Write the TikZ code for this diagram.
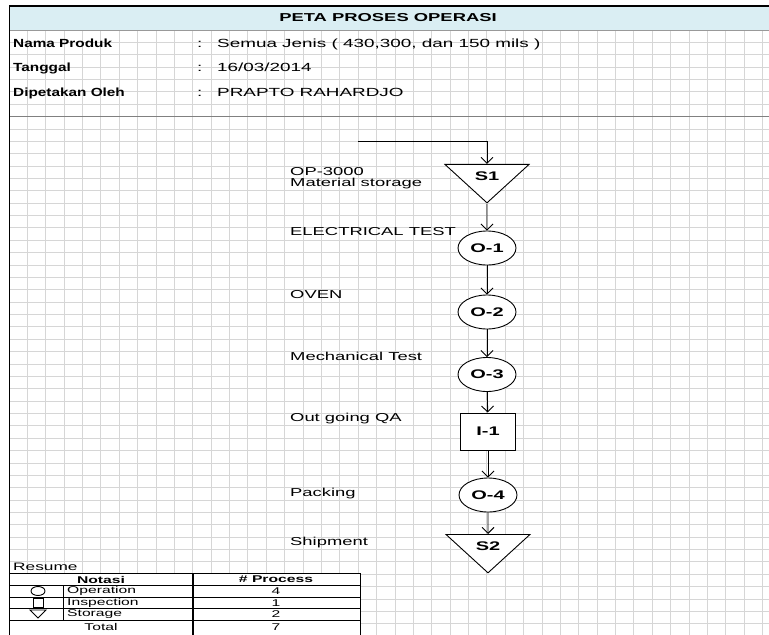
\documentclass[tikz,border=0pt]{standalone}
\usepackage{fontspec}
\setmainfont{Liberation Sans}[FakeStretch=1.6]
\newfontfamily\hdrfont{Liberation Sans}[FakeStretch=1.3]
\usetikzlibrary{positioning,shapes.geometric,arrows.meta}

\definecolor{titleblue}{HTML}{DAEEF3}
\definecolor{gridgray}{HTML}{D6D6D6}

\tikzset{
  gridline/.style={draw=gridgray, line width=0.9pt},
  headlbl/.style={anchor=base west, inner sep=0pt, font=\fontsize{11.8}{13}\hdrfont\bfseries},
  headval/.style={anchor=base west, inner sep=0pt, font=\fontsize{11.8}{13}\selectfont},
  steplbl/.style={anchor=base west, inner sep=0pt, font=\fontsize{11.5}{13}\selectfont},
  opbox/.style={draw, ellipse, fill=white, line width=0.9pt, minimum width=58pt,
    minimum height=34pt, inner sep=0pt, font=\fontsize{12.5}{14}\selectfont\bfseries},
  inspbox/.style={draw, rectangle, fill=white, line width=0.9pt, minimum width=55pt,
    minimum height=37pt, inner sep=0pt, font=\fontsize{12.5}{14}\selectfont\bfseries},
  storebox/.style={draw, isosceles triangle, isosceles triangle stretches,
    shape border rotate=270, fill=white, line width=0.9pt, minimum width=84pt,
    minimum height=36pt, inner sep=0pt, font=\fontsize{12.5}{14}\selectfont\bfseries},
  flow/.style={-{Straight Barb[length=6pt,width=12pt]}, line width=0.9pt},
  tbltxt/.style={inner sep=0pt, font=\fontsize{9.8}{10}\selectfont},
  tblline/.style={line width=0.9pt},
}

\begin{document}
\begin{tikzpicture}[x=1pt,y=-1pt]
\useasboundingbox (0,0) rectangle (769,635);

% title band
\fill[titleblue] (9,6) rectangle (769,30);
\node[font=\fontsize{11.5}{13}\selectfont\bfseries] (title) at (388,18) {PETA PROSES OPERASI};

% sheet grid
\foreach \i in {0,...,41}
  \draw[gridline] ({9+\i*18.38},30) -- ({9+\i*18.38},635);
\foreach \j in {0,...,48}
  \draw[gridline] (9,{30+\j*12.37}) -- (769,{30+\j*12.37});

\draw[gray!80, line width=0.8pt] (9,30) -- (769,30);
\draw[gray, line width=1.3pt] (9,116.7) -- (769,116.7);
\draw[line width=1.5pt] (9,6) -- (769,6);
\draw[line width=1.5pt] (9.5,5) -- (9.5,635);

% header
\node[headlbl] (nama) at (13,47) {Nama Produk};
\node[headlbl] (tgl) at (13,71.5) {Tanggal};
\node[headlbl] (oleh) at (13,96) {Dipetakan Oleh};
\foreach \y in {47,71.5,96}
  \node[headval] at (197,\y) {:};
\node[headval] (prod) at (217,47) {Semua Jenis ( 430,300, dan 150 mils )};
\node[headval] (date) at (217,71.5) {16/03/2014};
\node[headval] (who) at (217,96) {PRAPTO RAHARDJO};

% flow
\coordinate (feed) at (358,141);
\node[storebox, anchor=apex] (s1) at (487,204) {S1};
\node[opbox] (o1) at (487,248) {O-1};
\node[opbox] (o2) at (487,312) {O-2};
\node[opbox] (o3) at (487,374.5) {O-3};
\node[inspbox] (i1) at (488,431.5) {I-1};
\node[opbox] (o4) at (488,495) {O-4};
\node[storebox, anchor=apex] (s2) at (488,574) {S2};

\draw[flow] (feed) -| (s1);
\draw[flow] (s1) -- (o1);
\draw[flow] (o1) -- (o2);
\draw[flow] (o2) -- (o3);
\draw[flow] (o3) -- (i1);
\draw[flow] (i1) -- (o4);
\draw[flow] (o4) -- (s2);

\node[steplbl] (op) at (290,175) {OP-3000};
\node[steplbl] (mat) at (290,186.5) {Material storage};
\node[steplbl] (elec) at (290,235.5) {ELECTRICAL TEST};
\node[steplbl] (oven) at (290,298) {OVEN};
\node[steplbl] (mech) at (290,360) {Mechanical Test};
\node[steplbl] (qa) at (290,421) {Out going QA};
\node[steplbl] (pack) at (290,496) {Packing};
\node[steplbl] (ship) at (290,545.5) {Shipment};

% resume table
\node[anchor=base west, inner sep=0pt, font=\fontsize{10.8}{12}\selectfont] (res) at (13,570) {Resume};
\fill[white] (10,573) rectangle (360,635);
\draw[tblline] (10,573) -- (360,573);
\foreach \y in {585.5,597,608.5,620}
  \draw[tblline] (10,\y) -- (360,\y);
\draw[tblline] (63,585.5) -- (63,620);
\draw[line width=1.5pt] (193,573) -- (193,635);
\draw[tblline] (360,573) -- (360,635);

\node[tbltxt, font=\fontsize{9.8}{10}\selectfont\bfseries] (notasi) at (101,579.5) {Notasi};
\node[tbltxt, font=\fontsize{9.8}{10}\selectfont\bfseries] (nproc) at (276,579.5) {\# Process};
\node[tbltxt, anchor=west] (kop) at (67,591) {Operation};
\node[tbltxt, anchor=west] (kin) at (67,602.7) {Inspection};
\node[tbltxt, anchor=west] (kst) at (67,614.2) {Storage};
\node[tbltxt] (ktot) at (101,627) {Total};
\node[tbltxt] (nop) at (276,591) {4};
\node[tbltxt] (nin) at (276,602.7) {1};
\node[tbltxt] (nst) at (276,614.2) {2};
\node[tbltxt] (ntot) at (276,627) {7};

\draw[tblline] (38,591) ellipse [x radius=7, y radius=4.5];
\draw[tblline] (33,598.5) rectangle (43,607);
\draw[tblline] (30,610) -- (46,610) -- (38,618) -- cycle;
\end{tikzpicture}
\end{document}
